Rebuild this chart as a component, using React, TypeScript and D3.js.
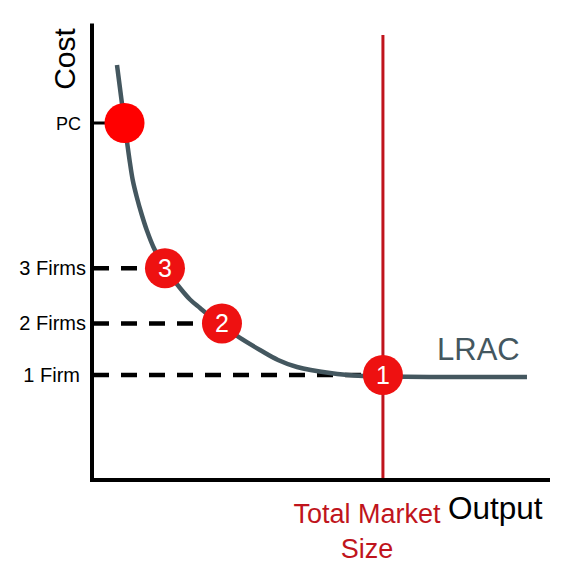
import React from "react";
import * as d3 from "d3";

// LRAC curve: output (0-100) vs cost (0-100)
const lracOutput = [5.48, 7.13, 8.33, 8.93, 9.8, 10.9, 12.0, 13.44, 16.01, 19.3, 21.49, 23.68, 28.07, 32.46, 36.84, 40.79, 44.96, 52.19, 59.43, 63.82, 78.51, 95.39];
const lracCost = [90.91, 78.2, 69.44, 65.72, 62.06, 58.16, 54.76, 51.11, 46.44, 42.06, 39.54, 37.68, 34.17, 31.11, 28.48, 26.29, 24.75, 23.44, 22.78, 22.67, 22.56, 22.56];

// Marked points on the curve
const markLabels = ["", "3", "2", "1"];
const markOutput = [7.13, 16.0, 28.5, 63.8];
const markCost = [78.2, 46.4, 34.3, 23.0];

// Y tick labels (cost levels)
const tickLabels = ["PC", "3 Firms", "2 Firms", "1 Firm"];
const tickDashed = [false, true, true, true];

const marketSize = 63.8;

const W = 586;
const H = 584;
const FONT = "'Liberation Sans', Arial, sans-serif";

export default function App() {
  const x = d3.scaleLinear().domain([0, 100]).range([92, 548]);
  const y = d3.scaleLinear().domain([0, 100]).range([480, 23.5]);

  const pts: [number, number][] = lracOutput.map((o, i) => [x(o), y(lracCost[i])]);
  const line = d3.line<[number, number]>().x((d) => d[0]).y((d) => d[1]).curve(d3.curveCatmullRom.alpha(0.5));

  const labelEnd = [81, 86, 86, 80];
  const labelSize = [18, 20, 20, 20];
  const labelShift = [7, 7, 7, 7];

  return (
    <svg width={W} height={H} style={{ position: "absolute", left: 0, top: 0, background: "#fff" }} fontFamily={FONT}>
      {/* dashed / tick lines to the y axis */}
      {tickLabels.map((t, i) =>
        tickDashed[i] ? (
          <line key={"d" + i} x1={x(0) + 1} x2={x(markOutput[i])} y1={y(markCost[i])} y2={y(markCost[i])}
            stroke="#000" strokeWidth={4.5} strokeDasharray="16 12" />
        ) : (
          <line key={"d" + i} x1={x(0)} x2={x(markOutput[i])} y1={y(markCost[i])} y2={y(markCost[i])}
            stroke="#000" strokeWidth={3} />
        )
      )}
      {/* total market size line */}
      <line x1={x(marketSize)} x2={x(marketSize)} y1={y(97.5)} y2={y(0)} stroke="#c0141c" strokeWidth={3} />
      {/* LRAC curve */}
      <path d={line(pts) || ""} fill="none" stroke="#44575f" strokeWidth={4.5} />
      {/* axes */}
      <line x1={x(0)} x2={x(0)} y1={y(100)} y2={y(0) + 2} stroke="#000" strokeWidth={4} />
      <line x1={x(0) - 2} x2={x(100) + 2} y1={y(0)} y2={y(0)} stroke="#000" strokeWidth={4} />
      {/* markers */}
      {markOutput.map((o, i) => (
        <g key={"m" + i}>
          <circle cx={x(o)} cy={y(markCost[i])} r={20} fill={i === 0 ? "#ff0000" : "#ee1111"} />
          {markLabels[i] && (
            <text x={x(o)} y={y(markCost[i]) + 9} textAnchor="middle" fill="#fff" fontSize={25}>{markLabels[i]}</text>
          )}
        </g>
      ))}
      {/* tick labels */}
      {tickLabels.map((t, i) => (
        <text key={"t" + i} x={labelEnd[i]} y={y(markCost[i]) + labelShift[i]} textAnchor="end" fontSize={labelSize[i]} fill="#000">{t}</text>
      ))}
      {/* axis titles */}
      <text transform="translate(75,59) rotate(-90)" textAnchor="middle" fontSize={30} fill="#000">Cost</text>
      <text x={448} y={519} fontSize={31.5} fill="#000">Output</text>
      <text x={437} y={360} fontSize={31} fill="#44575f">LRAC</text>
      <text x={x(marketSize) - 16} y={523} textAnchor="middle" fontSize={27} fill="#c0141c">Total Market</text>
      <text x={x(marketSize) - 16} y={558} textAnchor="middle" fontSize={27} fill="#c0141c">Size</text>
    </svg>
  );
}
